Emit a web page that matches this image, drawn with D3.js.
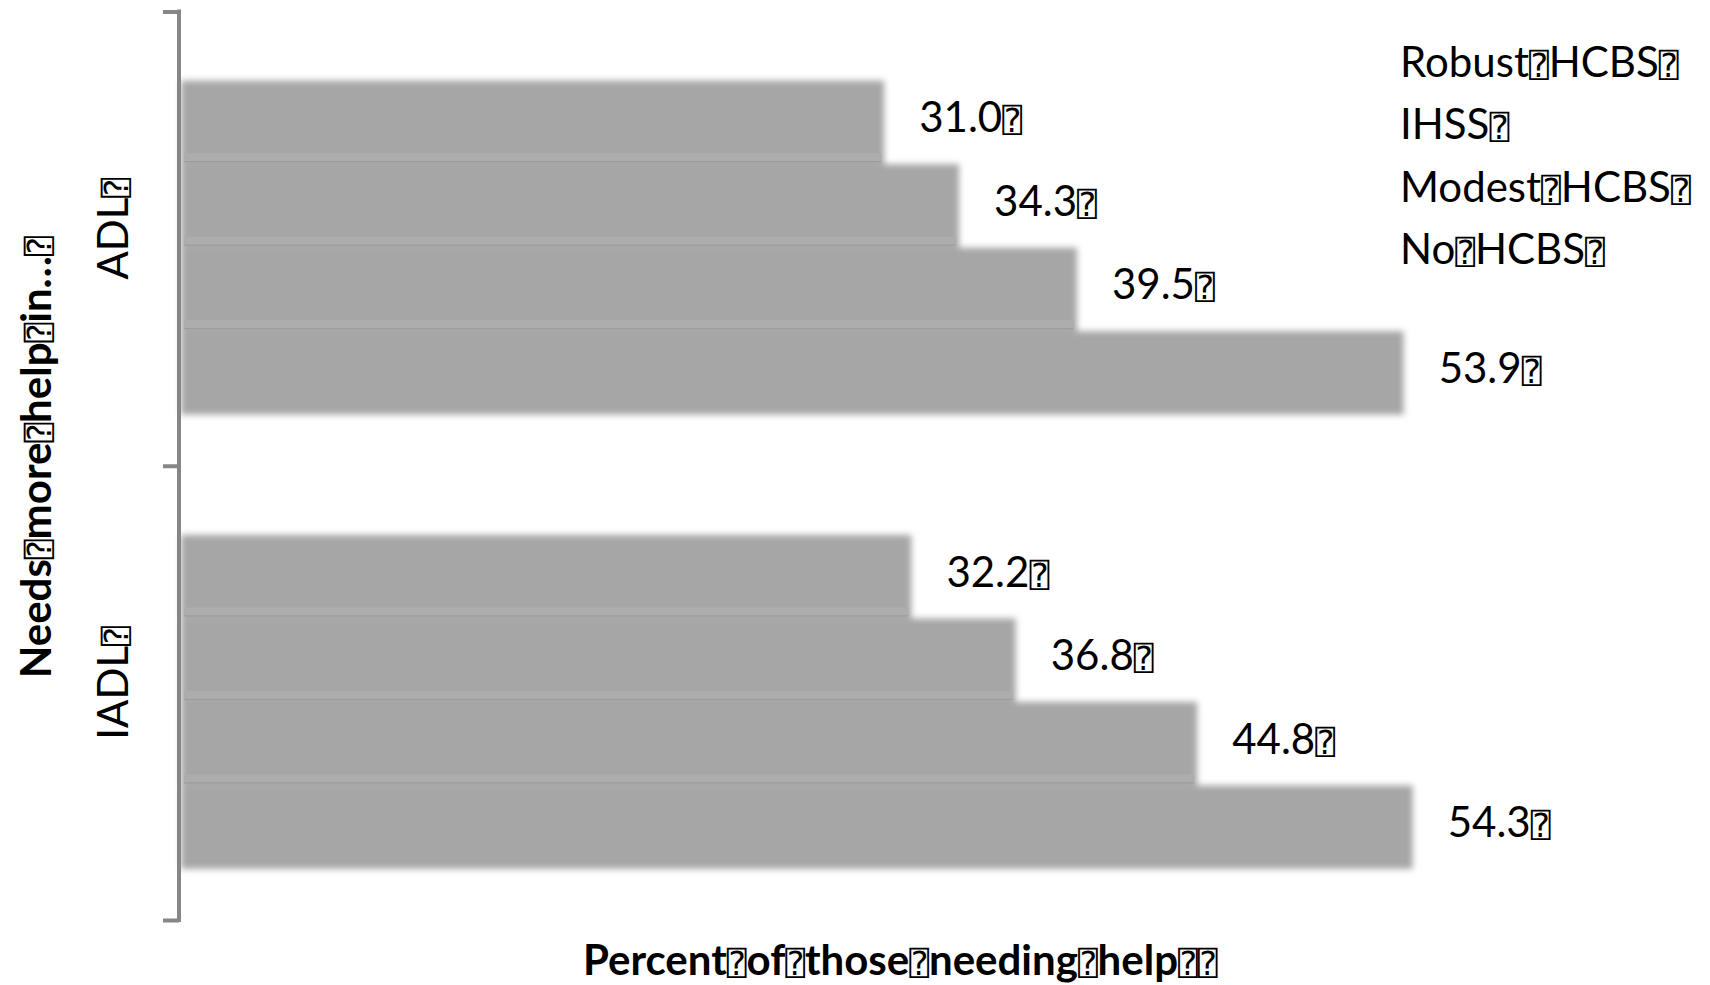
<!DOCTYPE html>
<html>
<head>
<meta charset="utf-8">
<script src="https://cdn.jsdelivr.net/npm/d3@7"></script>
<style>
  html, body { margin: 0; padding: 0; background: #ffffff; }
  svg { display: block; }
  text { font-family: Lato, "Open Sans", sans-serif; fill: #000; }
  .box { font-family: "DejaVu Sans Mono", "DejaVu Sans", sans-serif; font-weight: normal; }
</style>
</head>
<body>
<svg id="chart" width="1710" height="985"></svg>
<script>
// Share of people needing help who need more help, by HCBS environment
const categories = ["ADL", "IADL"];
const seriesNames = ["Robust HCBS", "IHSS", "Modest HCBS", "No HCBS"];
const robustHcbs = [31.0, 32.2];
const ihss = [34.3, 36.8];
const modestHcbs = [39.5, 44.8];
const noHcbs = [53.9, 54.3];
const seriesValues = [robustHcbs, ihss, modestHcbs, noHcbs];
const xTitle = "Percent\u2370of\u2370those\u2370needing\u2370help\u2370\u2370";
const yTitle = "Needs\u2370more\u2370help\u2370in\u2026\u2370";
const BOX = "\u2370";

const rows = [];
categories.forEach((c, ci) => {
  seriesNames.forEach((s, si) => {
    rows.push({ category: c, series: s, value: seriesValues[si][ci], index: si });
  });
});

const svg = d3.select("#chart");
const plot = { left: 181, right: 1542, top: 11.5, bottom: 920 };

const x = d3.scaleLinear().domain([0, 60]).range([plot.left, plot.right]);
const y0 = d3.scaleBand().domain(categories).range([plot.top, plot.bottom]);
const y1 = d3.scaleBand().domain(seriesNames)
  .range([0, y0.bandwidth()]).paddingInner(0).paddingOuter(0.72).align(0.575);
const barY = d => y0(d.category) + y1(d.series);

// soft edge for the bars
const defs = svg.append("defs");
defs.append("filter").attr("id", "soft")
  .attr("x", "-5%").attr("y", "-10%").attr("width", "110%").attr("height", "120%")
  .append("feGaussianBlur").attr("stdDeviation", 3.4);

const bars = svg.append("g").attr("filter", "url(#soft)");
bars.selectAll("rect").data(rows).join("rect")
  .attr("x", x(0))
  .attr("y", barY)
  .attr("width", d => x(d.value) - x(0))
  .attr("height", y1.bandwidth())
  .attr("fill", "#a6a6a6");

// faint seams where neighbouring bars meet
const prevEnd = d => Math.min(x(d.value), x(seriesValues[d.index - 1][categories.indexOf(d.category)]));
const seams = svg.append("g");
const inner = rows.filter(d => d.index > 0);
seams.selectAll("rect.band").data(inner).join("rect").attr("class", "band")
  .attr("x", x(0) + 3)
  .attr("y", d => barY(d) - 11)
  .attr("width", d => prevEnd(d) - x(0) - 6)
  .attr("height", 8)
  .attr("fill", "#adadad");
seams.selectAll("line").data(inner).join("line")
  .attr("x1", x(0) + 3)
  .attr("x2", d => prevEnd(d) - 3)
  .attr("y1", d => barY(d) - 2.5).attr("y2", d => barY(d) - 2.5)
  .attr("stroke", "#9b9b9b").attr("stroke-width", 1);

// vertical category axis with bracket ticks
const axis = svg.append("g").attr("transform", `translate(${plot.left - 2},0)`);
const yAxis = d3.axisLeft(d3.scaleLinear().domain([0, 2]).range([plot.top, plot.bottom]))
  .tickValues([0, 1, 2]).tickSize(16).tickFormat("");
axis.call(yAxis);
axis.select(".domain").attr("d", `M0,${plot.top - 2}V${plot.bottom + 2}`)
  .attr("stroke", "#868686").attr("stroke-width", 4).attr("fill", "none");
axis.selectAll(".tick line").attr("stroke", "#868686").attr("stroke-width", 4);

const fs = 42;
const boxScale = 0.78;

// text made of words separated by box glyphs
function boxedText(g, str, size, bold) {
  const t = g.append("text").attr("font-size", size);
  if (bold) t.attr("font-weight", "bold");
  str.split(BOX).forEach((p, i, arr) => {
    if (p) t.append("tspan").text(p);
    if (i < arr.length - 1) t.append("tspan").attr("class", "box")
      .attr("font-size", size * boxScale).text(BOX);
  });
  return t;
}

// value labels
rows.forEach(d => {
  const cy = barY(d) + y1.bandwidth() / 2;
  const g = svg.append("g").attr("transform", `translate(${x(d.value) + 35},${cy + 10})`);
  boxedText(g, d3.format(".1f")(d.value) + BOX, fs, false);
});

// legend (text only)
const legend = svg.append("g").attr("transform", "translate(1400,0)");
seriesNames.forEach((s, i) => {
  const g = legend.append("g").attr("transform", `translate(0,${77 + i * 62.3})`);
  boxedText(g, s.split(" ").join(BOX) + BOX, fs, false);
});

// category labels, rotated, centred on each band
categories.forEach(c => {
  const cy = y0(c) + y0.bandwidth() / 2;
  const g = svg.append("g").attr("transform", `translate(128,${cy}) rotate(-90)`);
  const t = g.append("text").attr("font-size", fs).attr("text-anchor", "middle").text(c);
  const w = t.node().getComputedTextLength();
  g.append("text").attr("class", "box").attr("font-size", fs * boxScale)
    .attr("x", w / 2).text(BOX);
});

// axis titles
boxedText(svg.append("g").attr("transform", "translate(583,975)"), xTitle, 42, true);
boxedText(svg.append("g").attr("transform", "translate(51,678) rotate(-90)"), yTitle, 42, true);
</script>
</body>
</html>
